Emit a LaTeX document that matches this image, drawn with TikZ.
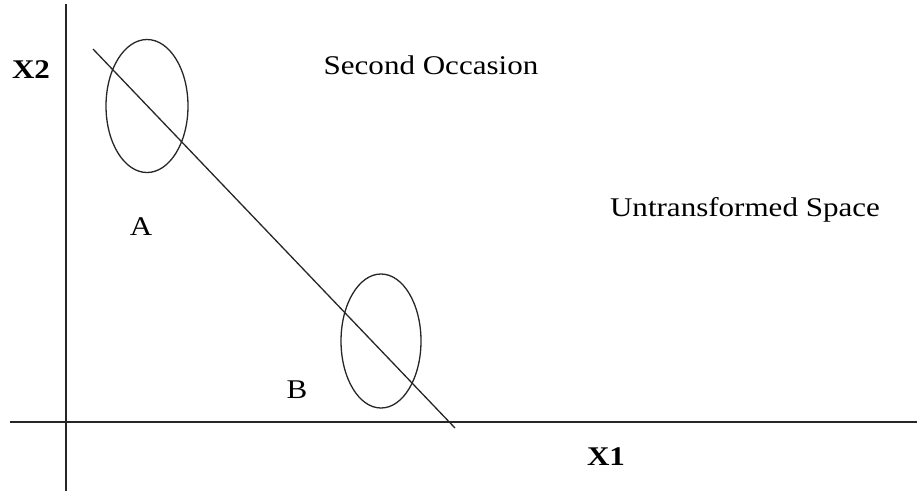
\documentclass[tikz,border=0pt]{standalone}
\usepackage{fontspec}
\setmainfont{Liberation Serif}[FakeStretch=1.15]
\usetikzlibrary{shapes.geometric}
\begin{document}
\begin{tikzpicture}[x=1pt,y=-1pt,
  axis/.style={line width=2pt,draw=black!85},
  thin/.style={line width=1.3pt,draw=black!85},
  lbl/.style={inner sep=0pt,font=\fontsize{27}{30}\selectfont},
  blbl/.style={inner sep=0pt,font=\fontsize{27}{30}\selectfont\bfseries}]
\useasboundingbox (0,0) rectangle (917,491);
\coordinate (vt) at (66,4);
\coordinate (vb) at (66,491);
\coordinate (hl) at (10,422);
\coordinate (hr) at (917,422);
\coordinate (ds) at (93,49);
\coordinate (de) at (455,428);
\draw[axis] (vt) -- (vb);
\draw[axis] (hl) -- (hr);
\draw[thin] (ds) -- (de);
\node[thin,draw,ellipse,minimum width=82,minimum height=133,inner sep=0pt] (ea) at (147,106) {};
\node[thin,draw,ellipse,minimum width=80,minimum height=134,inner sep=0pt] (eb) at (381,341) {};
\node[blbl] (x2) at (31,70) {X2};
\node[blbl] (x1) at (606,457) {X1};
\node[lbl] (a) at (141,227) {A};
\node[lbl] (b) at (297,390) {B};
\node[lbl] (so) at (431,65) {Second Occasion};
\node[lbl] (us) at (745,210) {Untransformed Space};
\end{tikzpicture}
\end{document}
